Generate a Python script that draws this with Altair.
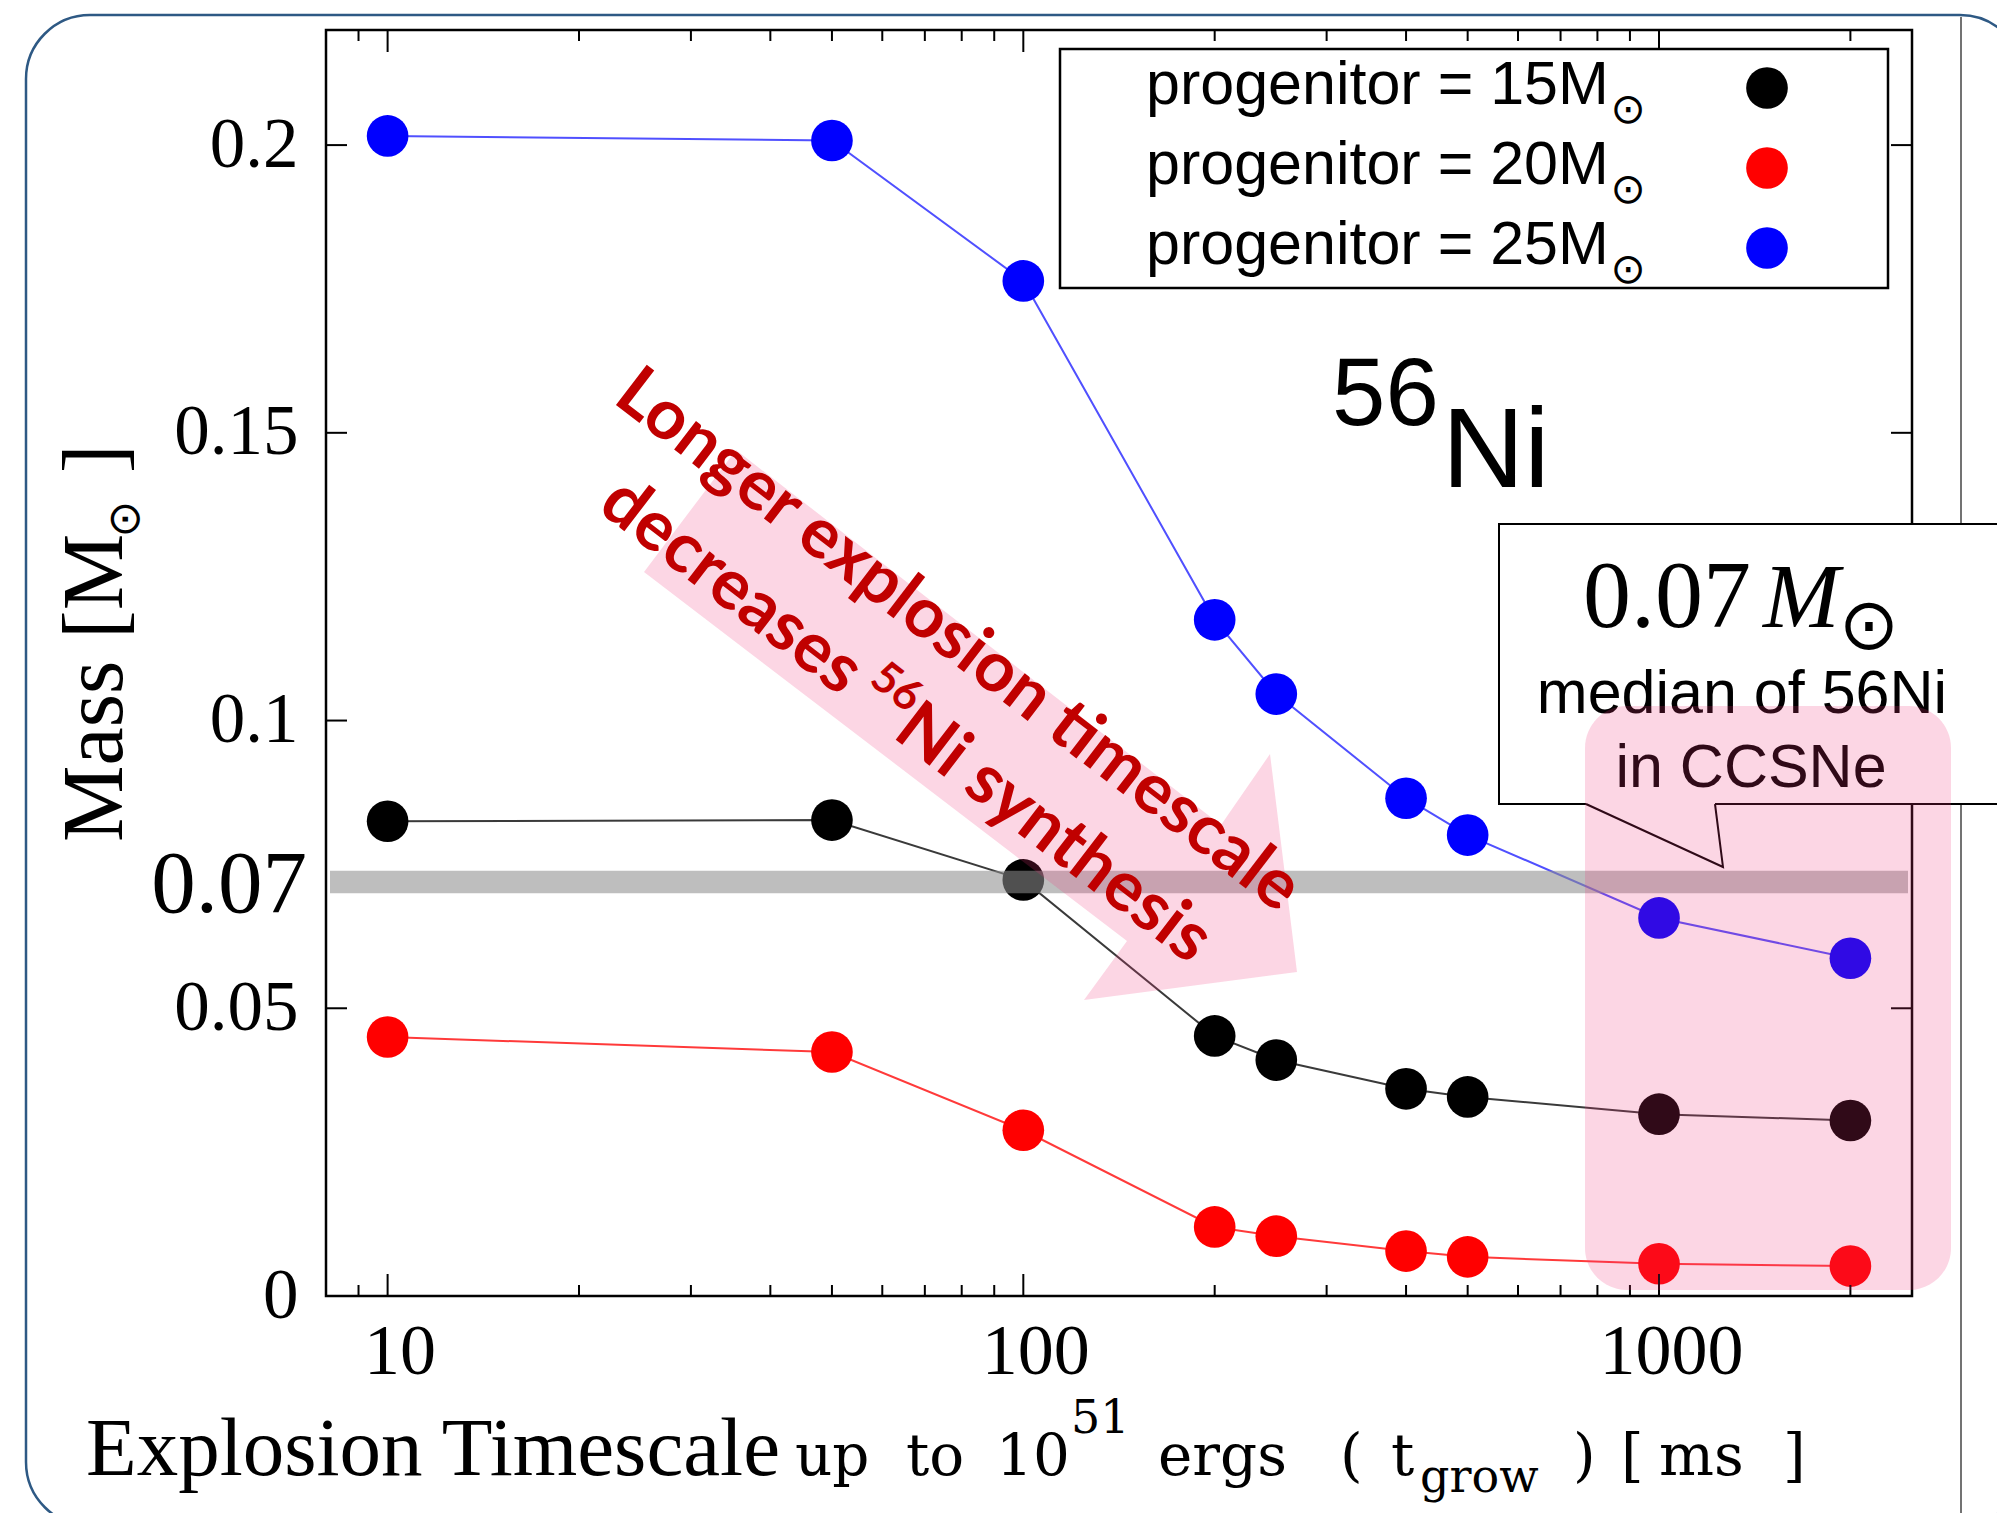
import altair as alt
import pandas as pd

# ---------------- data ----------------
timescale_ms = [10, 50, 100, 200, 250, 400, 500, 1000, 2000]
mass_15 = [0.0825, 0.0827, 0.0723, 0.0452, 0.0410, 0.0360, 0.0346, 0.0316, 0.0305]
mass_20 = [0.0450, 0.0424, 0.0288, 0.0120, 0.0104, 0.0078, 0.0068, 0.0056, 0.0052]
mass_25 = [0.2016, 0.2008, 0.1764, 0.1175, 0.1046, 0.0865, 0.0801, 0.0657, 0.0587]
progenitors = ["15", "20", "25"]
point_colors = ["#000000", "#ff0000", "#0000ff"]
line_colors = ["#3a3a3a", "#ff3a3a", "#5050ff"]
x_major_ticks = [10, 100, 1000]
x_minor_ticks = [9, 20, 30, 40, 50, 60, 70, 80, 90, 200, 300, 400, 500, 600, 700, 800, 900, 2000]
y_ticks = [0, 0.05, 0.1, 0.15, 0.2]
median_band = [0.0700, 0.0739]

# ---------------- layout ----------------
W, H = 1586, 1266
SERIF = "Liberation Serif"
SERIF2 = "DejaVu Serif"
SANS = "Liberation Sans"
SYM = "DejaVu Sans"
PINK = "rgb(240,50,120)"

rows = []
for p, vals in zip(progenitors, [mass_15, mass_20, mass_25]):
    for t, m in zip(timescale_ms, vals):
        rows.append({"progenitor": p, "t": t, "mass": m})
df = pd.DataFrame(rows)
ONE = pd.DataFrame({"k": [0]})

X_SCALE = alt.Scale(type="log", domain=[8, 2500])
Y_SCALE = alt.Scale(domain=[0, 0.22])
X_AXIS = alt.Axis(values=x_major_ticks, format="d", title=None, ticks=False, tickSize=0,
                  domain=False, grid=False, labelFont=SERIF, labelFontSize=72,
                  labelColor="black", labelPadding=20, labelOffset=12,
                  labelFlush=False, labelOverlap=False, labelBaseline="top")
Y_AXIS = alt.Axis(values=y_ticks, format=".2~f", title=None, ticks=False, tickSize=0,
                  domain=False, grid=False, labelFont=SERIF, labelFontSize=71,
                  labelColor="black", labelPadding=28, labelFlush=False,
                  labelOverlap=False)


def X(field):
    return alt.X(f"{field}:Q", scale=X_SCALE, axis=X_AXIS)


def Y(field):
    return alt.Y(f"{field}:Q", scale=Y_SCALE, axis=Y_AXIS)


def txt(text, x, y, size, font=SERIF, align="left", baseline="alphabetic",
        angle=0, color="black", style="normal", weight="normal"):
    return alt.Chart(ONE).mark_text(
        text=text, font=font, fontSize=size, align=align, baseline=baseline,
        angle=angle, color=color, fontStyle=style, fontWeight=weight
    ).encode(x=alt.value(x), y=alt.value(y))


def rect(x, x2, y, y2, **kw):
    return alt.Chart(ONE).mark_rect(**kw).encode(
        x=alt.value(x), x2=alt.value(x2), y=alt.value(y), y2=alt.value(y2))


def shape(path, x, y, **kw):
    return alt.Chart(ONE).mark_point(shape=path, size=4, **kw).encode(
        x=alt.value(x), y=alt.value(y))


layers = []

# outer rounded frame of the slide + vertical divider
layers.append(rect(-300, 1698, -15, 1496, cornerRadius=64, filled=False,
                   stroke="#2e5984", strokeWidth=2.5, fillOpacity=0))
layers.append(alt.Chart(ONE).mark_rule(color="#444444", strokeWidth=1.5).encode(
    x=alt.value(1635), y=alt.value(-13), y2=alt.value(1500)))

# data lines and points
layers.append(alt.Chart(df).mark_line(strokeWidth=2).encode(
    x=X("t"), y=Y("mass"),
    color=alt.Color("progenitor:N", scale=alt.Scale(domain=progenitors, range=line_colors), legend=None),
    detail="progenitor:N"))
layers.append(alt.Chart(df).mark_circle(size=1735, opacity=1).encode(
    x=X("t"), y=Y("mass"), stroke=alt.value(None),
    fill=alt.Fill("progenitor:N", scale=alt.Scale(domain=progenitors, range=point_colors), legend=None)))

# median band 0.07
band_df = pd.DataFrame({"lo": [median_band[0]], "hi": [median_band[1]]})
layers.append(alt.Chart(band_df).mark_rect(color="rgb(140,140,140)", opacity=0.57).encode(
    x=alt.value(4), x2=alt.value(W - 4), y=Y("lo"), y2="hi:Q"))
layers.append(txt("0.07", -19, 855, 89, align="right", baseline="middle"))

# frame ticks (inward)
maj = pd.DataFrame({"t": x_major_ticks})
mnr = pd.DataFrame({"t": x_minor_ticks})
yt = pd.DataFrame({"v": y_ticks})
for d, ln in [(maj, 22), (mnr, 11)]:
    layers.append(alt.Chart(d).mark_rule(color="black", strokeWidth=2).encode(
        x=X("t"), y=alt.value(H), y2=alt.value(H - ln)))
    layers.append(alt.Chart(d).mark_rule(color="black", strokeWidth=2).encode(
        x=X("t"), y=alt.value(0), y2=alt.value(ln)))
layers.append(alt.Chart(yt).mark_rule(color="black", strokeWidth=2).encode(
    y=Y("v"), x=alt.value(0), x2=alt.value(21)))
layers.append(alt.Chart(yt).mark_rule(color="black", strokeWidth=2).encode(
    y=Y("v"), x=alt.value(W), x2=alt.value(W - 21)))

# legend
layers.append(rect(734, 1562, 19, 258, fill="white", stroke="black", strokeWidth=2.5))
for i, (p, c) in enumerate(zip(progenitors, point_colors)):
    yb = 74 + 80 * i
    layers.append(txt(f"progenitor = {p}M", 820, yb, 61, font=SANS))
    layers.append(txt("\u2299", 1302, yb + 6, 42, font=SYM, align="center", baseline="middle"))
    layers.append(alt.Chart(ONE).mark_circle(size=1735, opacity=1, color=c).encode(
        x=alt.value(1441), y=alt.value(58 + 80 * i)))

# 56Ni label
layers.append(txt("56", 1006, 395, 96, font=SANS))
layers.append(txt("Ni", 1116, 457, 114, font=SANS))

# callout box
layers.append(rect(1173, 1700, 494, 774, fill="white", stroke="black", strokeWidth=2))
layers.append(shape("M0,-4 L0,0 L137,63 L129,0 L129,-4 Z", 1260, 774,
                    filled=True, fill="white", strokeWidth=0, opacity=1))
layers.append(shape("M0,0 L137,63 L129,0", 1260, 774, filled=False,
                    stroke="black", strokeWidth=2, opacity=1))
layers.append(txt("0.07", 1257, 597, 96))
layers.append(txt("M", 1437, 597, 92, style="italic"))
layers.append(txt("\u2299", 1543, 597, 72, font=SYM, align="center", baseline="middle"))
layers.append(txt("median of 56Ni", 1416, 683, 61, font=SANS, align="center"))
layers.append(txt("in CCSNe", 1425, 757, 61, font=SANS, align="center"))

# pink highlight box
layers.append(rect(1259, 1625, 676, 1260, cornerRadius=42, color=PINK, opacity=0.2))

# big arrow
arrow = "M-230,-280 L255,95 L304,24 L331,242 L118,270 L161,211 L-322,-158 Z"
layers.append(shape(arrow, 640, 700, filled=True, color=PINK, opacity=0.2, strokeWidth=0))
RED = "#c00000"
ANG = 37.5
layers.append(txt("Longer explosion timescale", 632, 611, 70, font="Lato",
                  align="center", baseline="middle", angle=ANG, color=RED, weight="bold"))
# second line in pieces so that the superscript 56 is a real smaller raised text
dx, dy = 0.7934, 0.6088
sx, sy = 283, 463
layers.append(txt("decreases", sx, sy, 70, font="Lato", baseline="middle",
                  angle=ANG, color=RED, weight="bold"))
s56 = 321
layers.append(txt("56", sx + dx * s56 + 12, sy + dy * s56 - 16, 44, font="Lato",
                  baseline="middle", angle=ANG, color=RED, weight="bold"))
sNi = 372
layers.append(txt("Ni synthesis", sx + dx * sNi, sy + dy * sNi, 70, font="Lato",
                  baseline="middle", angle=ANG, color=RED, weight="bold"))

# y-axis title  Mass [M_sun]
layers.append(txt("Mass  [M", -204, 812, 86, angle=270))
layers.append(txt("\u2299", -200, 489, 44, font=SYM, align="center", baseline="middle", angle=270))
layers.append(txt("]", -204, 443, 86, angle=270))

# x-axis title
XB = 1445
layers.append(txt("Explosion Timescale", -240, XB, 83))
for s, xx in [("up", 469), ("to", 580), ("10", 670), ("ergs", 832), ("(", 1014),
              ("t", 1065), (")", 1247), ("[", 1295), ("ms", 1333), ("]", 1457)]:
    layers.append(txt(s, xx, XB, 58, font=SERIF2))
layers.append(txt("51", 745, 1403, 46, font=SERIF2))
layers.append(txt("grow", 1094, 1462, 46, font=SERIF2))

chart = alt.layer(*layers).properties(
    width=W, height=H,
    padding={"left": 318, "top": 22, "right": 85, "bottom": 217},
    autosize=alt.AutoSizeParams(type="none"),
    background="white",
).configure_view(stroke="black", strokeWidth=2.5)

chart.save("out.html", embed_options={"renderer": "svg", "actions": False})
